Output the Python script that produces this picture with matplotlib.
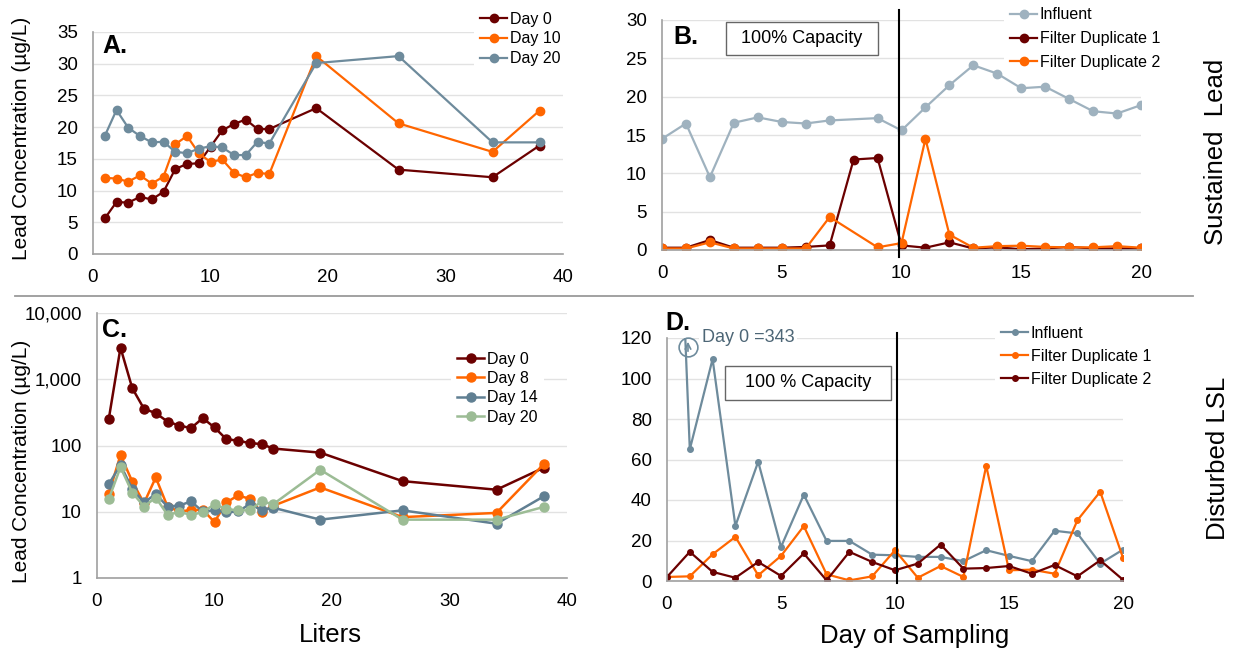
import matplotlib
matplotlib.use('Agg')
import matplotlib.pyplot as plt
from matplotlib.lines import Line2D
from matplotlib.patches import Rectangle
from matplotlib.ticker import FixedLocator, FixedFormatter

plt.rcParams['font.family'] = ['Liberation Sans', 'DejaVu Sans']

# ---- data ----
liters = [1, 2, 3, 4, 5, 6, 7, 8, 9, 10, 11, 12, 13, 14, 15, 19, 26, 34, 38]

a_day0 = [5.6, 8.2, 8.1, 9.0, 8.6, 9.8, 13.4, 14.2, 14.3, 16.9, 19.5, 20.5, 21.2, 19.7, 19.7, 23.0, 13.3, 12.1, 17.1]
a_day10 = [12.0, 11.9, 11.4, 12.4, 11.1, 12.2, 17.3, 18.6, 15.9, 14.5, 14.9, 12.8, 12.1, 12.8, 12.6, 31.2, 20.6, 16.1, 22.6]
a_day20 = [18.6, 22.7, 19.9, 18.6, 17.6, 17.7, 16.1, 15.9, 16.6, 17.0, 16.8, 15.6, 15.6, 17.7, 17.4, 30.1, 31.2, 17.6, 17.6]

b_days = list(range(21))
b_days_no8 = [0, 1, 2, 3, 4, 5, 6, 7, 9, 10, 11, 12, 13, 14, 15, 16, 17, 18, 19, 20]
b_influent = [14.5, 16.5, 9.5, 16.6, 17.3, 16.7, 16.5, 16.9, 17.2, 15.6, 18.6, 21.5, 24.1, 23.0, 21.1, 21.3, 19.7, 18.1, 17.8, 18.9]
b_dup1 = [0.3, 0.3, 1.3, 0.3, 0.3, 0.3, 0.4, 0.6, 11.8, 12.0, 0.6, 0.3, 1.0, 0.2, 0.35, 0.1, 0.2, 0.4, 0.2, 0.2, 0.2]
b_dup2 = [0.2, 0.2, 1.0, 0.2, 0.2, 0.2, 0.2, 4.3, 0.35, 0.9, 14.5, 2.0, 0.3, 0.5, 0.56, 0.4, 0.35, 0.35, 0.5, 0.3]

c_day0 = [250, 3000, 734, 358, 308, 230, 200, 183, 259, 187, 125, 118, 109, 105, 90, 78, 29, 21.5, 46]
c_day8 = [18.5, 72, 28.6, 13.5, 32.9, 12, 10.1, 10.6, 10.7, 7.0, 13.8, 17.6, 15.7, 9.9, 12.3, 23.3, 8.3, 9.6, 52]
c_day14 = [26, 51, 22, 13.8, 18.5, 12, 12.4, 14.3, 10.1, 10.5, 9.8, 10.1, 13, 10.7, 11.5, 7.6, 10.5, 6.6, 17]
c_day20 = [15.5, 47, 19.5, 12, 16.4, 9, 9.9, 9, 9.8, 13, 11, 10.5, 10.5, 14.3, 13, 43, 7.6, 7.6, 11.8]
c_ticks = [1, 10, 100, 1000, 10000]
c_ticklabels = ['1', '10', '100', '1,000', '10,000']

d_days = list(range(21))
d_influent = [343, 65, 109.6, 27.2, 58.9, 16.8, 42.6, 19.8, 19.8, 13.0, 12.7, 11.9, 11.9, 9.8, 15.2, 12.4, 9.8, 24.8, 23.5, 8.6, 15.5]
d_dup1 = [2.0, 2.3, 13.2, 21.8, 2.8, 12.4, 27.1, 3.3, 0.3, 2.3, 15.2, 1.6, 7.4, 2.0, 56.9, 5.3, 5.6, 3.6, 30.0, 44.1, 11.4]
d_dup2 = [2.0, 14.4, 4.5, 1.6, 9.4, 2.5, 13.6, 0.3, 14.4, 9.4, 5.3, 8.6, 18.0, 6.1, 6.4, 7.4, 3.6, 7.9, 2.3, 10.2, 0.6]

MAROON = '#6b0000'
ORANGE = '#ff6600'
SLATE = '#6e8b9c'
LIGHT_SLATE = '#9fb2bf'
SLATE_C = '#607f92'
SAGE = '#9cbc95'

W, H = 1243, 651
fig = plt.figure(figsize=(W / 100, H / 100), dpi=100)


def axes_px(l, t, r, b):
    return fig.add_axes([l / W, 1 - b / H, (r - l) / W, (b - t) / H])


def style(ax):
    for s in ['top', 'right']:
        ax.spines[s].set_visible(False)
    for s in ['left', 'bottom']:
        ax.spines[s].set_color('#a0a0a0')
        ax.spines[s].set_linewidth(1.2)
    ax.grid(axis='y', color='#e2e2e2', lw=1)
    ax.set_axisbelow(True)
    ax.tick_params(length=0, labelsize=13.5, pad=11)


def legend(ax, x, y, ls):
    leg = ax.legend(loc='upper left', bbox_to_anchor=(x / W, 1 - y / H),
                    bbox_transform=fig.transFigure, frameon=True, facecolor='white',
                    edgecolor='none', framealpha=1, fontsize=11.5, handlelength=1.7,
                    handletextpad=0.15, labelspacing=ls, borderpad=0.4, borderaxespad=0)
    leg.set_zorder(6)
    return leg


def cap_box(ax, x0, y0, x1, y1, text):
    ax.add_patch(Rectangle((x0, y0), x1 - x0, y1 - y0, transform=ax.transAxes,
                           facecolor='white', edgecolor='#666666', lw=1, zorder=5, clip_on=False))
    ax.text((x0 + x1) / 2, (y0 + y1) / 2, text, transform=ax.transAxes, ha='center',
            va='center', fontsize=13, zorder=6)


# ---- A ----
axA = axes_px(93, 32, 563, 254)
style(axA)
axA.plot(liters, a_day0, color=MAROON, marker='o', ms=6, lw=1.6, label='Day 0')
axA.plot(liters, a_day10, color=ORANGE, marker='o', ms=6, lw=1.6, label='Day 10')
axA.plot(liters, a_day20, color=SLATE, marker='o', ms=6, lw=1.6, label='Day 20')
axA.set_xlim(0, 40)
axA.set_ylim(0, 35)
axA.set_xticks([0, 10, 20, 30, 40])
axA.set_yticks(range(0, 36, 5))
legend(axA, 473.6, 5.3, 0.3)
axA.text(0.019, 0.937, 'A.', transform=axA.transAxes, fontsize=18, fontweight='bold', va='center')

# ---- B ----
axB = axes_px(662, 20, 1141, 250)
style(axB)
axB.plot(b_days_no8, b_influent, color=LIGHT_SLATE, marker='o', ms=6, lw=1.6, label='Influent')
axB.plot(b_days, b_dup1, color=MAROON, marker='o', ms=6, lw=1.6, label='Filter Duplicate 1')
axB.plot(b_days_no8, b_dup2, color=ORANGE, marker='o', ms=6, lw=1.6, label='Filter Duplicate 2')
axB.set_xlim(0, 20)
axB.set_ylim(0, 30)
axB.set_xticks([0, 5, 10, 15, 20])
axB.set_yticks(range(0, 31, 5))
axB.plot([9.9, 9.9], [-0.03, 1.043], transform=axB.get_xaxis_transform(), color='black', lw=1.5, clip_on=False, zorder=4)
legend(axB, 1003.6, 1.0, 0.55)
cap_box(axB, 0.134, 0.848, 0.451, 0.991, '100% Capacity')
axB.text(0.023, 0.928, 'B.', transform=axB.transAxes, fontsize=18, fontweight='bold', va='center')

# ---- C ----
axC = axes_px(97, 313, 567, 578)
style(axC)
axC.plot(liters, c_day0, color=MAROON, marker='o', ms=6.5, lw=1.8, label='Day 0')
axC.plot(liters, c_day8, color=ORANGE, marker='o', ms=6.5, lw=1.8, label='Day 8')
axC.plot(liters, c_day14, color=SLATE_C, marker='o', ms=6.5, lw=1.8, label='Day 14')
axC.plot(liters, c_day20, color=SAGE, marker='o', ms=6.5, lw=1.8, label='Day 20')
axC.set_yscale('log')
axC.set_xlim(0, 40)
axC.set_ylim(1, 10000)
axC.yaxis.set_major_locator(FixedLocator(c_ticks))
axC.yaxis.set_major_formatter(FixedFormatter(c_ticklabels))
axC.yaxis.set_minor_locator(FixedLocator([]))
axC.set_xticks([0, 10, 20, 30, 40])
legend(axC, 450.6, 345.3, 0.27)
axC.text(0.011, 0.936, 'C.', transform=axC.transAxes, fontsize=18, fontweight='bold', va='center')

# ---- D ----
axD = axes_px(667, 338, 1123, 581)
style(axD)
axD.plot(d_days, d_influent, color=SLATE, marker='o', ms=4, lw=1.6, label='Influent')
axD.plot(d_days, d_dup1, color=ORANGE, marker='o', ms=4, lw=1.6, label='Filter Duplicate 1')
axD.plot(d_days, d_dup2, color=MAROON, marker='o', ms=4, lw=1.6, label='Filter Duplicate 2')
axD.set_xlim(0, 20)
axD.set_ylim(0, 120)
axD.set_xticks([0, 5, 10, 15, 20])
axD.set_yticks(range(0, 121, 20))
axD.plot([10.1, 10.1], [-0.008, 1.02], transform=axD.get_xaxis_transform(), color='black', lw=1.5, clip_on=False, zorder=4)
legend(axD, 994.6, 319.3, 0.5)
cap_box(axD, 0.127, 0.745, 0.491, 0.885, '100 % Capacity')
axD.text(-0.004, 1.06, 'D.', transform=axD.transAxes, fontsize=18, fontweight='bold', va='center')
axD.text(1.54, 120, 'Day 0 =343', color='#4d6676', fontsize=13, va='center', ha='left',
         bbox=dict(facecolor='white', edgecolor='none', pad=2), zorder=5)
axD.plot(0.046, 0.963, transform=axD.transAxes, marker='o', ms=13.5, mfc='none', mec=SLATE,
         mew=1.2, clip_on=False, zorder=5)
axD.annotate('', xy=(0.046, 0.996), xytext=(0.046, 0.934), xycoords='axes fraction',
             arrowprops=dict(arrowstyle='->', color=SLATE, lw=1.2), zorder=5)

# ---- figure-level text ----
fig.text(22 / W, 1 - 138 / H, 'Lead Concentration (µg/L)', rotation=90, fontsize=15, ha='center', va='center')
fig.text(22 / W, 1 - 461 / H, 'Lead Concentration (µg/L)', rotation=90, fontsize=15, ha='center', va='center')
fig.text(1216 / W, 1 - 152 / H, 'Sustained  Lead', rotation=90, fontsize=18.5, ha='center', va='center')
fig.text(1218 / W, 1 - 458 / H, 'Disturbed LSL', rotation=90, fontsize=18.5, ha='center', va='center')
fig.text(330 / W, 1 - 635 / H, 'Liters', fontsize=18.5, ha='center', va='center')
fig.text(915 / W, 1 - 636 / H, 'Day of Sampling', fontsize=18.5, ha='center', va='center')
fig.add_artist(Line2D([15 / W, 1193 / W], [1 - 296 / H, 1 - 296 / H], color='#9a9a9a', lw=1.3))

fig.savefig('out.png', dpi=100)
